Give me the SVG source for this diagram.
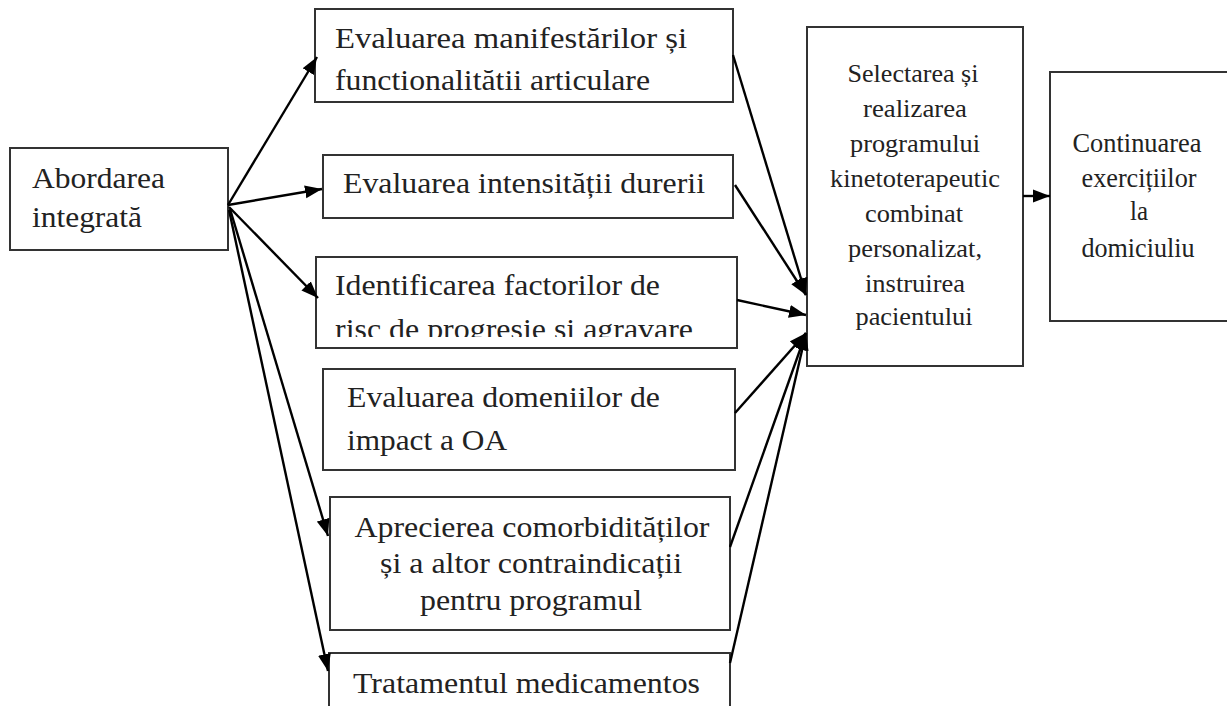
<svg xmlns="http://www.w3.org/2000/svg" width="1227" height="706" viewBox="0 0 1227 706">
<style>
.box{fill:#fff;stroke:#333;stroke-width:2}
.t{font-family:"Liberation Serif","Times New Roman",serif;font-size:29px;fill:#222}
.m{font-family:"Liberation Serif","Times New Roman",serif;font-size:29px;fill:#222;text-anchor:middle}
.s{font-family:"Liberation Serif","Times New Roman",serif;font-size:25px;fill:#222;text-anchor:middle}
.c{font-family:"Liberation Serif","Times New Roman",serif;font-size:27px;fill:#222;text-anchor:middle}
.ln{stroke:#000;stroke-width:2.4;fill:none}
</style>
<defs>
<marker id="ah" markerUnits="userSpaceOnUse" markerWidth="18" markerHeight="14" refX="17" refY="7" orient="auto"><path d="M0,0.5 L17,7 L0,13.5 z" fill="#000"/></marker>
<clipPath id="clip3"><rect x="300" y="250" width="450" height="87"/></clipPath>
</defs>
<rect width="1227" height="706" fill="#fff"/>
<g id="n-abordarea">
<rect class="box" x="10" y="148" width="218" height="102"/>
<text class="t" x="32" y="188" textLength="133" lengthAdjust="spacingAndGlyphs">Abordarea</text>
<text class="t" x="32" y="227" textLength="110" lengthAdjust="spacingAndGlyphs">integrată</text>
</g>
<g id="n-manifestari">
<rect class="box" x="315" y="9" width="418" height="93"/>
<text class="t" x="335" y="48" textLength="352" lengthAdjust="spacingAndGlyphs">Evaluarea  manifestărilor și</text>
<text class="t" x="335" y="90" textLength="315" lengthAdjust="spacingAndGlyphs">functionalitătii articulare</text>
</g>
<g id="n-durere">
<rect class="box" x="323" y="155" width="410" height="63"/>
<text class="t" x="343" y="193" textLength="362" lengthAdjust="spacingAndGlyphs">Evaluarea intensității durerii</text>
</g>
<g id="n-factori">
<rect class="box" x="316" y="257" width="421" height="91"/>
<text class="t" x="335" y="295" textLength="325" lengthAdjust="spacingAndGlyphs">Identificarea factorilor de</text>
<text class="t" x="335" y="339" textLength="358" lengthAdjust="spacingAndGlyphs" clip-path="url(#clip3)">risc de progresie si agravare</text>
</g>
<g id="n-domenii">
<rect class="box" x="323" y="369" width="412" height="101"/>
<text class="t" x="347" y="407" textLength="313" lengthAdjust="spacingAndGlyphs">Evaluarea domeniilor de</text>
<text class="t" x="347" y="450" textLength="160" lengthAdjust="spacingAndGlyphs">impact a OA</text>
</g>
<g id="n-comorbiditati">
<rect class="box" x="330" y="497" width="400" height="133"/>
<text class="m" x="532" y="537" textLength="355" lengthAdjust="spacingAndGlyphs">Aprecierea comorbidităților</text>
<text class="m" x="531" y="573" textLength="302" lengthAdjust="spacingAndGlyphs">și a altor contraindicații</text>
<text class="m" x="531" y="610" textLength="222" lengthAdjust="spacingAndGlyphs">pentru programul</text>
</g>
<g id="n-tratament">
<rect class="box" x="329" y="653" width="401" height="70"/>
<text class="t" x="353" y="693" textLength="347" lengthAdjust="spacingAndGlyphs">Tratamentul medicamentos</text>
</g>
<g id="n-selectarea">
<rect class="box" x="807" y="27" width="216" height="339"/>
<text class="s" x="913" y="82" textLength="131" lengthAdjust="spacingAndGlyphs">Selectarea și</text>
<text class="s" x="915" y="117" textLength="104" lengthAdjust="spacingAndGlyphs">realizarea</text>
<text class="s" x="915" y="152" textLength="130" lengthAdjust="spacingAndGlyphs">programului</text>
<text class="s" x="915" y="187" textLength="170" lengthAdjust="spacingAndGlyphs">kinetoterapeutic</text>
<text class="s" x="914" y="222" textLength="98" lengthAdjust="spacingAndGlyphs">combinat</text>
<text class="s" x="915" y="257" textLength="134" lengthAdjust="spacingAndGlyphs">personalizat,</text>
<text class="s" x="915" y="292" textLength="100" lengthAdjust="spacingAndGlyphs">instruirea</text>
<text class="s" x="914" y="325" textLength="117" lengthAdjust="spacingAndGlyphs">pacientului</text>
</g>
<g id="n-continuarea">
<rect class="box" x="1050" y="72" width="200" height="249"/>
<text class="c" x="1137" y="152" textLength="129" lengthAdjust="spacingAndGlyphs">Continuarea</text>
<text class="c" x="1139" y="187" textLength="115" lengthAdjust="spacingAndGlyphs">exercițiilor</text>
<text class="c" x="1139" y="220" textLength="18" lengthAdjust="spacingAndGlyphs">la</text>
<text class="c" x="1138" y="257" textLength="113" lengthAdjust="spacingAndGlyphs">domiciuliu</text>
</g>
<g id="connectors">
<line class="ln" x1="228" y1="205" x2="317" y2="57" marker-end="url(#ah)"/>
<line class="ln" x1="228" y1="205" x2="322" y2="189" marker-end="url(#ah)"/>
<line class="ln" x1="229" y1="207" x2="318" y2="298" marker-end="url(#ah)"/>
<line class="ln" x1="230" y1="209" x2="328" y2="536" marker-end="url(#ah)"/>
<line class="ln" x1="229" y1="210" x2="328" y2="671" marker-end="url(#ah)"/>
<line class="ln" x1="733" y1="55" x2="806" y2="295" marker-end="url(#ah)"/>
<line class="ln" x1="735" y1="185" x2="806" y2="295" marker-end="url(#ah)"/>
<line class="ln" x1="737" y1="300" x2="806" y2="315" marker-end="url(#ah)"/>
<line class="ln" x1="735" y1="413" x2="806" y2="333" marker-end="url(#ah)"/>
<line class="ln" x1="730" y1="547" x2="806" y2="333" marker-end="url(#ah)"/>
<line class="ln" x1="730" y1="663" x2="806" y2="333" marker-end="url(#ah)"/>
<line class="ln" x1="1023" y1="196" x2="1050" y2="196" marker-end="url(#ah)"/>
</g>
</svg>
